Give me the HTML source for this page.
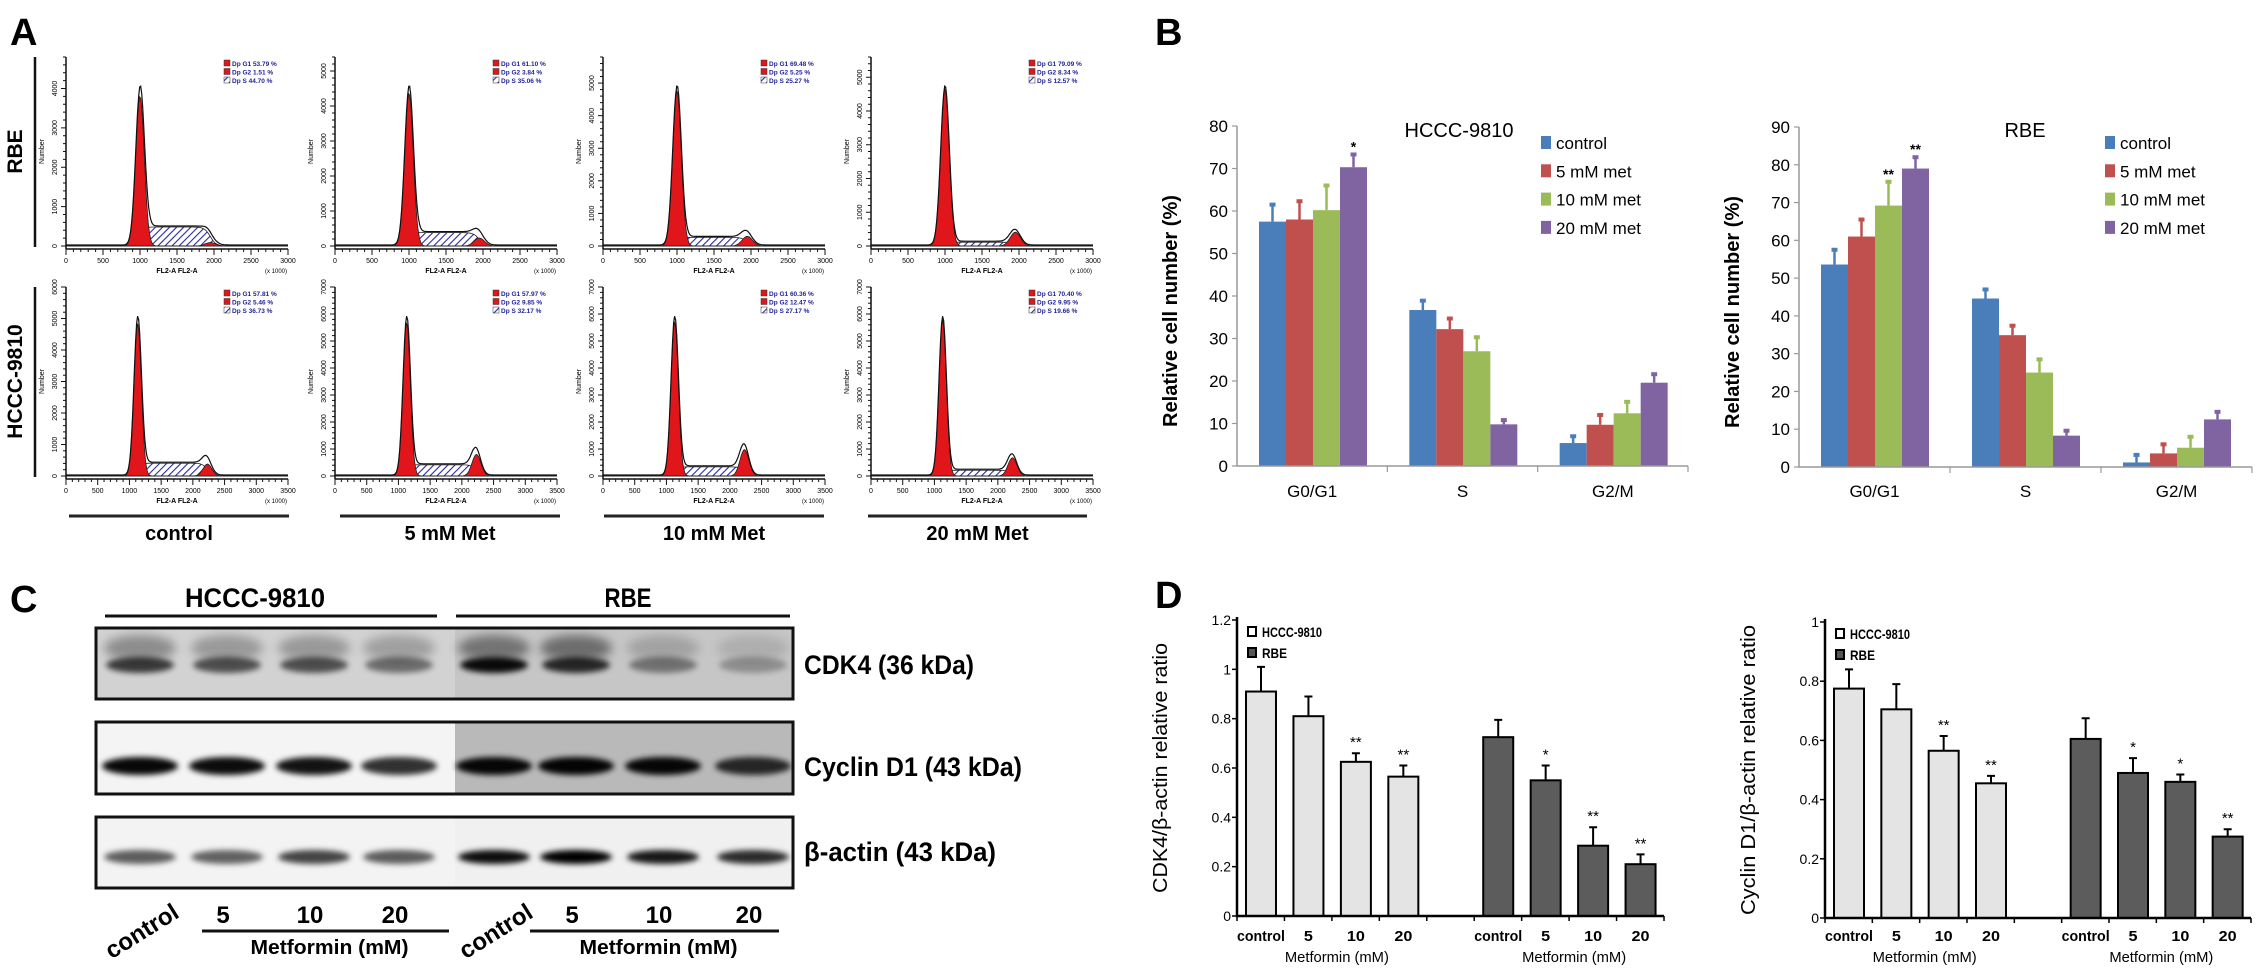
<!DOCTYPE html>
<html><head><meta charset="utf-8">
<style>
html,body{margin:0;padding:0;background:#fff;}
svg{display:block;}
text{font-family:"Liberation Sans",sans-serif;}
</style></head>
<body>
<svg id="fig" xmlns="http://www.w3.org/2000/svg" width="2268" height="978" viewBox="0 0 2268 978">
<defs>
<pattern id="hatch" patternUnits="userSpaceOnUse" width="5" height="5" patternTransform="rotate(45)">
<rect width="5" height="5" fill="#fff"/><line x1="0" y1="0" x2="0" y2="5" stroke="#2a2a9a" stroke-width="2.2"/>
</pattern>
<filter id="blur6" x="-50%" y="-50%" width="200%" height="200%"><feGaussianBlur stdDeviation="5"/></filter>
<filter id="blur3" x="-50%" y="-50%" width="200%" height="200%"><feGaussianBlur stdDeviation="3"/></filter>
</defs>
</svg>
<script>
// ---------- Panel A data (flow cytometry) ----------
const aGroups = ["control","5 mM Met","10 mM Met","20 mM Met"];
const aRbeG1 = [53.79, 61.10, 69.48, 79.09];
const aRbeG2 = [1.51, 3.84, 5.25, 8.34];
const aRbeS  = [44.70, 35.06, 25.27, 12.57];
const aHcccG1 = [57.81, 57.97, 60.36, 70.40];
const aHcccG2 = [5.46, 9.85, 12.47, 9.95];
const aHcccS  = [36.73, 32.17, 27.17, 19.66];
const aRbeYMax = [4800, 5400, 5800, 5600];
const aHcccYMax = [6000, 7000, 7000, 7000];
// ---------- Panel B data ----------
const bCategories = ["G0/G1","S","G2/M"];
const bSeriesNames = ["control","5 mM met","10 mM met","20 mM met"];
const bHcccControl = [57.5, 36.7, 5.4];
const bHccc5 = [58.0, 32.2, 9.7];
const bHccc10 = [60.2, 27.0, 12.4];
const bHccc20 = [70.3, 9.8, 19.6];
const bHcccControlErr = [61.5, 38.9, 7.0];
const bHccc5Err = [62.3, 34.7, 12.0];
const bHccc10Err = [66.0, 30.3, 15.1];
const bHccc20Err = [73.3, 10.8, 21.6];
const bHcccStars = [["","","",""],["","","",""],["","","",""]];
bHcccStars[0][3] = "*";
const bRbeControl = [53.6, 44.6, 1.2];
const bRbe5 = [61.0, 34.9, 3.6];
const bRbe10 = [69.2, 25.0, 5.1];
const bRbe20 = [79.0, 8.3, 12.6];
const bRbeControlErr = [57.5, 47.0, 3.2];
const bRbe5Err = [65.5, 37.4, 6.0];
const bRbe10Err = [75.5, 28.5, 8.0];
const bRbe20Err = [82.0, 9.6, 14.6];
const bRbeStars = [["","","**","**"],["","","",""],["","","",""]];
const bHcccTicks = [0,10,20,30,40,50,60,70,80];
const bRbeTicks = [0,10,20,30,40,50,60,70,80,90];
// ---------- Panel C data (band intensities) ----------
const cLaneLabels = ["control","5","10","20","control","5","10","20"];
const cCdk4 = [0.72, 0.62, 0.62, 0.48, 0.95, 0.80, 0.42, 0.28];
const cCdk4Upper = [0.55, 0.45, 0.45, 0.40, 0.70, 0.75, 0.30, 0.20];
const cCyclin = [0.97, 0.95, 0.92, 0.80, 0.97, 0.98, 0.97, 0.80];
const cActin = [0.62, 0.60, 0.72, 0.62, 0.95, 1.00, 0.90, 0.82];
// ---------- Panel D data ----------
const dLabels = ["control","5","10","20"];
const dCdk4Hccc = [0.91, 0.81, 0.625, 0.565];
const dCdk4HcccErr = [1.01, 0.89, 0.66, 0.61];
const dCdk4Rbe = [0.725, 0.55, 0.285, 0.21];
const dCdk4RbeErr = [0.795, 0.61, 0.36, 0.25];
const dCdk4HcccStars = ["","","**","**"];
const dCdk4RbeStars = ["","*","**","**"];
const dCycHccc = [0.775, 0.705, 0.565, 0.455];
const dCycHcccErr = [0.84, 0.79, 0.615, 0.48];
const dCycRbe = [0.605, 0.49, 0.46, 0.275];
const dCycRbeErr = [0.675, 0.54, 0.485, 0.30];
const dCycHcccStars = ["","","**","**"];
const dCycRbeStars = ["","*","*","**"];
const dCdk4Ticks = [0,0.2,0.4,0.6,0.8,1,1.2];
const dCycTicks = [0,0.2,0.4,0.6,0.8,1];

const NS = "http://www.w3.org/2000/svg";
const svg = document.getElementById('fig');
function mk(tag, attrs, parent){
  const e = document.createElementNS(NS, tag);
  for (const k in attrs) e.setAttribute(k, attrs[k]);
  (parent || svg).appendChild(e);
  return e;
}
function txt(s, attrs, parent){ const t = mk('text', attrs, parent); t.textContent = s; return t; }

// ================= Panel letters =================
[["A",10,45],["B",1155,45],["C",10,612],["D",1155,608]].forEach(p=>{
  const t = txt(p[0], {x:p[1], y:p[2], 'font-size':38, 'font-weight':'bold'});
  
  
});

// ================= Panel A =================
const aColX = [66, 335, 603, 871];
const aW = 222;
const aRows = [{top:57, base:246, xmax:3000, mu1:1000, mu2:1950, name:"RBE"},
               {top:287, base:476, xmax:3500, mu1:1130, mu2:2230, name:"HCCC-9810"}];
function gauss(x, mu, s){ return Math.exp(-0.5*((x-mu)/s)*((x-mu)/s))/(s*2.5066); }
function sig(z){ return 1/(1+Math.exp(-z)); }
function drawHist(ci, ri, g1, g2, sp, ymax){
  const row = aRows[ri];
  const x0 = aColX[ci], H = row.base - row.top;
  const g = mk('g', {});
  
  
  const sx = v => x0 + v / row.xmax * aW;
  const s1 = 58, s2 = 70;
  const N = 220, pts = [];
  for (let i=0;i<=N;i++){
    const x = i/N*row.xmax;
    const a = g1*gauss(x,row.mu1,s1);
    const b = g2*gauss(x,row.mu2,s2);
    const c = sp/(row.mu2-row.mu1)*sig((x-row.mu1)/30)*sig((row.mu2-x)/40);
    pts.push([x,a,b,c]);
  }
  let mx = 0; pts.forEach(p=>{ mx = Math.max(mx, p[1]+p[2]+p[3]); });
  const k = 0.84*H/mx;
  const sy = v => row.base - v*k;
  let dS = "M"+sx(pts[0][0])+","+row.base;
  pts.forEach(p=>{ dS += " L"+sx(p[0]).toFixed(1)+","+sy(p[3]).toFixed(1); });
  dS += " L"+sx(row.xmax)+","+row.base+"Z";
  const ps = mk('path', {d:dS, fill:'url(#hatch)', stroke:'#222', 'stroke-width':0.8}, g);
  
  
  let d1 = "M"+sx(pts[0][0])+","+row.base;
  pts.forEach(p=>{ d1 += " L"+sx(p[0]).toFixed(1)+","+sy(p[1]).toFixed(1); });
  d1 += " L"+sx(row.xmax)+","+row.base+"Z";
  const p1 = mk('path', {d:d1, fill:'#e0161b', stroke:'#222', 'stroke-width':0.8}, g);
  
  
  let d2 = "M"+sx(pts[0][0])+","+row.base;
  pts.forEach(p=>{ d2 += " L"+sx(p[0]).toFixed(1)+","+sy(p[2]).toFixed(1); });
  d2 += " L"+sx(row.xmax)+","+row.base+"Z";
  const p2 = mk('path', {d:d2, fill:'#e0161b', stroke:'#222', 'stroke-width':0.8}, g);
  
  
  let dt = "";
  pts.forEach((p,i)=>{ dt += (i?" L":"M")+sx(p[0]).toFixed(1)+","+(sy(p[1]+p[2]+p[3])-1).toFixed(1); });
  const pt = mk('path', {d:dt, fill:'none', stroke:'#111', 'stroke-width':1.2}, g);
  
  
  const ax = mk('path', {d:`M${x0},${row.top} L${x0},${row.base+3} M${x0},${row.base+3} L${x0+aW},${row.base+3}`, stroke:'#111', 'stroke-width':1.5, fill:'none'}, g);
  
  
  const ySteps = Math.floor(ymax/200);
  for (let i=0;i<=ySteps;i++){
    const v = i*200, y = row.base - v/ymax*H;
    mk('line', {x1:x0-(i%5==0?5:3), x2:x0, y1:y, y2:y, stroke:'#111', 'stroke-width':1}, g);
    if (i%5==0){
      const tl = txt(String(v), {x:x0-9, y:y, 'font-size':7, 'text-anchor':'middle', transform:`rotate(-90 ${x0-9} ${y})`}, g);
      
      
    }
  }
  for (let v=0; v<=row.xmax; v+=100){
    const x = sx(v);
    mk('line', {x1:x, x2:x, y1:row.base+3, y2:row.base+(v%500==0?9:6), stroke:'#111', 'stroke-width':1}, g);
    if (v%500==0){
      const tl = txt(String(v), {x:x, y:row.base+17, 'font-size':7, 'text-anchor':'middle'}, g);
      
      
    }
  }
  const xl = txt("FL2-A FL2-A", {x:x0+aW*0.5, y:row.base+27, 'font-size':7, 'font-weight':'bold', 'text-anchor':'middle'}, g);
  
  
  const xu = txt("(x 1000)", {x:x0+aW-12, y:row.base+27, 'font-size':6, 'text-anchor':'middle'}, g);
  
  
  const yl = txt("Number", {x:x0-22, y:(row.top+row.base)/2, 'font-size':7, 'text-anchor':'middle', transform:`rotate(-90 ${x0-22} ${(row.top+row.base)/2})`}, g);
  
  
  const lg = mk('g', {}, g);
  
  
  const lx = x0 + 158, ly = row.top + 3;
  [["Dp G1", g1, '#e0161b'],["Dp G2", g2, '#e0161b'],["Dp S", sp, 'url(#hatch)']].forEach((r,i)=>{
    mk('rect', {x:lx, y:ly+i*8.5, width:6, height:6, fill:r[2], stroke:'#333', 'stroke-width':0.5}, lg);
    const lt = txt(r[0]+"  "+r[1].toFixed(2)+" %", {x:lx+8, y:ly+i*8.5+6, 'font-size':6.5, fill:'#22229a', 'font-weight':'bold'}, lg);
    
    
  });
}
for (let c=0;c<4;c++){
  drawHist(c, 0, aRbeG1[c], aRbeG2[c], aRbeS[c], aRbeYMax[c]);
  drawHist(c, 1, aHcccG1[c], aHcccG2[c], aHcccS[c], aHcccYMax[c]);
}
aRows.forEach((r,i)=>{
  const l = mk('line', {x1:35, x2:35, y1:r.top, y2:r.base+1, stroke:'#111', 'stroke-width':2.5});
  
  
  const cy = (r.top + r.base)/2;
  const t = txt(r.name, {x:22, y:cy, 'font-size':21, 'font-weight':'bold', 'text-anchor':'middle', transform:`rotate(-90 22 ${cy})`});
  
  
});
const aUnder = [[69,289],[340,560],[604,824],[868,1087]];
aGroups.forEach((gname,i)=>{
  const l = mk('line', {x1:aUnder[i][0], x2:aUnder[i][1], y1:516, y2:516, stroke:'#222', 'stroke-width':3});
  
  
  const t = txt(gname, {x:(aUnder[i][0]+aUnder[i][1])/2, y:540, 'font-size':20, 'font-weight':'bold', 'text-anchor':'middle'});
  
  
});

// ================= Panel B =================
const bColors = ["#4a7ebb","#c0504d","#9bbb59","#8064a2"];
function drawB(cfg){
  const g = mk('g', {});
  
  
  const sy = v => cfg.y0 - v/cfg.ymax*(cfg.y0-cfg.yTop);
  const catW = (cfg.xEnd - cfg.x0)/bCategories.length;
  bCategories.forEach((cat, ci)=>{
    cfg.series.forEach((ser, si)=>{
      const x = cfg.x0 + ci*catW + 22 + si*27;
      const v = ser[ci], e = cfg.errs[si][ci];
      const r = mk('rect', {x:x, y:sy(v), width:27, height:cfg.y0-sy(v), fill:bColors[si]}, g);
      
      
      const el = mk('line', {x1:x+13.5, x2:x+13.5, y1:sy(v), y2:sy(e), stroke:bColors[si], 'stroke-width':2.5}, g);
      
      
      mk('rect', {x:x+10.5, y:sy(e)-2, width:6, height:4, fill:bColors[si]}, g);
      const st = cfg.stars[ci][si];
      if (st){
        const s = txt(st, {x:x+13.5, y:sy(e)-3, 'font-size':14, 'font-weight':'bold', 'text-anchor':'middle'}, g);
        
        
      }
    });
    const cl = txt(cat, {x:cfg.x0 + ci*catW + catW/2, y:497, 'font-size':17, 'text-anchor':'middle'}, g);
    
    
    mk('line', {x1:cfg.x0+(ci+1)*catW, x2:cfg.x0+(ci+1)*catW, y1:cfg.y0, y2:cfg.y0+6, stroke:'#999', 'stroke-width':1.2}, g);
  });
  const ax = mk('path', {d:`M${cfg.x0},${cfg.yTop} L${cfg.x0},${cfg.y0} L${cfg.xEnd},${cfg.y0}`, stroke:'#999', 'stroke-width':1.5, fill:'none'}, g);
  
  
  cfg.ticks.forEach(v=>{
    mk('line', {x1:cfg.x0-5, x2:cfg.x0, y1:sy(v), y2:sy(v), stroke:'#999', 'stroke-width':1.2}, g);
    const t = txt(String(v), {x:cfg.x0-9, y:sy(v)+6, 'font-size':17, 'text-anchor':'end'}, g);
    
    
  });
  const yt = txt("Relative cell number (%)", {x:cfg.x0-60, y:(cfg.y0+cfg.yTop)/2+15, 'font-size':20, 'font-weight':'bold', 'text-anchor':'middle', textLength:232, lengthAdjust:'spacingAndGlyphs', transform:`rotate(-90 ${cfg.x0-60} ${(cfg.y0+cfg.yTop)/2+15})`}, g);
  
  
  const tt = txt(cfg.title, {x:cfg.titleX, y:137, 'font-size':20, 'text-anchor':'middle'}, g);
  
  
  bSeriesNames.forEach((n,i)=>{
    const y = 143 + i*28.3;
    mk('rect', {x:cfg.legX, y:y-7, width:10, height:13, fill:bColors[i]}, g);
    const t = txt(n, {x:cfg.legX+15, y:y+6, 'font-size':17}, g);
    
    
  });
}
drawB({name:'chart-b-hccc9810', x0:1237, xEnd:1688, y0:466, yTop:126, ymax:80, ticks:bHcccTicks,
  series:[bHcccControl,bHccc5,bHccc10,bHccc20], errs:[bHcccControlErr,bHccc5Err,bHccc10Err,bHccc20Err],
  stars:bHcccStars, title:"HCCC-9810", titleX:1459, legX:1541});
drawB({name:'chart-b-rbe', x0:1799, xEnd:2252, y0:467, yTop:127, ymax:90, ticks:bRbeTicks,
  series:[bRbeControl,bRbe5,bRbe10,bRbe20], errs:[bRbeControlErr,bRbe5Err,bRbe10Err,bRbe20Err],
  stars:bRbeStars, title:"RBE", titleX:2025, legX:2105});

// ================= Panel C =================
const cLaneX = [140, 227, 314, 399, 494, 576, 663, 753];
const cBoxX0 = 96, cBoxX1 = 793, cSplit = 455;
function blotBox(name, y0, y1, bgL, bgR){
  const g = mk('g', {});
  
  
  mk('rect', {x:cBoxX0, y:y0, width:cSplit-cBoxX0, height:y1-y0, fill:bgL}, g);
  mk('rect', {x:cSplit, y:y0, width:cBoxX1-cSplit, height:y1-y0, fill:bgR}, g);
  return g;
}
const gC1 = blotBox('blot-cdk4', 628, 699, '#d2d2d2', '#c6c6c6');
cLaneX.forEach((x,i)=>{
  const u = mk('ellipse', {cx:x, cy:648, rx:36, ry:13, fill:'#000', 'fill-opacity':cCdk4Upper[i]*0.6, filter:'url(#blur6)'}, gC1);
  
  
  const b = mk('ellipse', {cx:x, cy:665, rx:34, ry:8, fill:'#000', 'fill-opacity':cCdk4[i], filter:'url(#blur3)'}, gC1);
  
  
});
const gC2 = blotBox('blot-cyclin-d1', 722, 794, '#f4f4f4', '#b9b9b9');
cLaneX.forEach((x,i)=>{
  const b = mk('ellipse', {cx:x, cy:766, rx:38, ry:9, fill:'#000', 'fill-opacity':cCyclin[i], filter:'url(#blur3)'}, gC2);
  
  
});
const gC3 = blotBox('blot-beta-actin', 817, 888, '#f3f3f3', '#f0f0f0');
cLaneX.forEach((x,i)=>{
  const b = mk('ellipse', {cx:x, cy:857, rx:36, ry:7, fill:'#000', 'fill-opacity':cActin[i], filter:'url(#blur3)'}, gC3);
  
  
});
[[628,699],[722,794],[817,888]].forEach(b=>{
  const r = mk('rect', {x:cBoxX0, y:b[0], width:cBoxX1-cBoxX0, height:b[1]-b[0], fill:'none', stroke:'#111', 'stroke-width':3});
  
  
});
[["CDK4 (36 kDa)",674,170],["Cyclin D1 (43 kDa)",776,218],["β-actin (43 kDa)",861,192]].forEach(l=>{
  const t = txt(l[0], {x:804, y:l[1], 'font-size':27, 'font-weight':'bold', textLength:l[2], lengthAdjust:'spacingAndGlyphs'});
  
  
});
[["HCCC-9810",255,105,437],["RBE",628,456,790]].forEach(h=>{
  const t = txt(h[0], {x:h[1], y:607, 'font-size':27, 'font-weight':'bold', 'text-anchor':'middle', textLength:h[0]=="RBE"?47:140, lengthAdjust:'spacingAndGlyphs'});
  
  
  const l = mk('line', {x1:h[2], x2:h[3], y1:616, y2:616, stroke:'#111', 'stroke-width':3});
  
  
});
cLaneLabels.forEach((s,i)=>{
  if (s==="control"){
    const cx = cLaneX[i]+6, cy = 938;
    const t = txt(s, {x:cx, y:cy, 'font-size':24, 'font-weight':'bold', 'text-anchor':'middle', transform:`rotate(-32 ${cx} ${cy})`});
    
    
  } else {
    const t = txt(s, {x:cLaneX[i]-4, y:923, 'font-size':24, 'font-weight':'bold', 'text-anchor':'middle'});
    
    
  }
});
[[202,449],[530,779]].forEach(m=>{
  const l = mk('line', {x1:m[0], x2:m[1], y1:931, y2:931, stroke:'#111', 'stroke-width':3});
  
  
  const t = txt("Metformin (mM)", {x:(m[0]+m[1])/2+4, y:954, 'font-size':20, 'font-weight':'bold', 'text-anchor':'middle', textLength:158, lengthAdjust:'spacingAndGlyphs'});
  
  
});

// ================= Panel D =================
function drawD(cfg){
  const g = mk('g', {});
  
  
  const sy = v => cfg.y0 - v/cfg.ymax*(cfg.y0-cfg.yTop);
  const step = (cfg.xEnd - cfg.x0)/9;
  const groups = [[cfg.hccc, cfg.hcccErr, cfg.hcccStars, '#e4e4e4', 0],[cfg.rbe, cfg.rbeErr, cfg.rbeStars, '#5c5c5c', 5]];
  groups.forEach(gr=>{
    gr[0].forEach((v,i)=>{
      const slot = gr[4]+i;
      const x = cfg.x0 + slot*step + 9;
      const e = gr[1][i];
      const el = mk('path', {d:`M${x+15},${sy(v)} L${x+15},${sy(e)} M${x+11},${sy(e)} L${x+19},${sy(e)}`, stroke:'#000', 'stroke-width':2, fill:'none'}, g);
      
      
      const r = mk('rect', {x:x, y:sy(v), width:30, height:cfg.y0-sy(v), fill:gr[3], stroke:'#000', 'stroke-width':2}, g);
      
      
      if (gr[2][i]){
        const s = txt(gr[2][i], {x:x+15, y:sy(e)-6, 'font-size':15, 'text-anchor':'middle'}, g);
        
        
      }
      const lb = txt(dLabels[i], {x:x+15, y:941, 'font-size':15, 'font-weight':'bold', 'text-anchor':'middle', textLength:dLabels[i]=="control"?48:(dLabels[i].length*9), lengthAdjust:'spacingAndGlyphs'}, g);
      
      
    });
    const mx = cfg.x0 + (gr[4]+2)*step + 5;
    const ml = txt("Metformin (mM)", {x:mx, y:962, 'font-size':15, 'text-anchor':'middle', textLength:104, lengthAdjust:'spacingAndGlyphs'}, g);
    
    
  });
  const ax = mk('path', {d:`M${cfg.x0},${cfg.yTop-3} L${cfg.x0},${cfg.y0} L${cfg.xEnd},${cfg.y0}`, stroke:'#000', 'stroke-width':2.5, fill:'none'}, g);
  
  
  for (let i=0;i<=9;i++) mk('line', {x1:cfg.x0+i*step, x2:cfg.x0+i*step, y1:cfg.y0, y2:cfg.y0+5, stroke:'#000', 'stroke-width':1.5}, g);
  cfg.ticks.forEach(v=>{
    mk('line', {x1:cfg.x0-5, x2:cfg.x0, y1:sy(v), y2:sy(v), stroke:'#000', 'stroke-width':1.5}, g);
    const t = txt(String(v), {x:cfg.x0-6, y:sy(v)+5, 'font-size':14, 'text-anchor':'end'}, g);
    
    
  });
  const cy = cfg.titleY;
  const yt = txt(cfg.ytitle, {x:cfg.x0-70, y:cy, 'font-size':20, 'text-anchor':'middle', textLength:cfg.tlen, lengthAdjust:'spacingAndGlyphs', transform:`rotate(-90 ${cfg.x0-70} ${cy})`}, g);
  
  
  [["HCCC-9810",'#fff',cfg.yTop+12],["RBE",'#555',cfg.yTop+33]].forEach(l=>{
    mk('rect', {x:cfg.x0+11, y:l[2]-5, width:8, height:9, fill:l[1], stroke:'#000', 'stroke-width':2}, g);
    const t = txt(l[0], {x:cfg.x0+25, y:l[2]+5, 'font-size':14, 'font-weight':'bold', textLength:l[0]=="RBE"?25:60, lengthAdjust:'spacingAndGlyphs'}, g);
    
    
  });
}
drawD({name:'chart-d-cdk4', x0:1237, xEnd:1664, y0:916, yTop:620, ymax:1.2, ticks:dCdk4Ticks,
  hccc:dCdk4Hccc, hcccErr:dCdk4HcccErr, hcccStars:dCdk4HcccStars, rbe:dCdk4Rbe, rbeErr:dCdk4RbeErr, rbeStars:dCdk4RbeStars,
  ytitle:"CDK4/β-actin relative ratio", titleY:768, tlen:250});
drawD({name:'chart-d-cyclin-d1', x0:1825, xEnd:2251, y0:918, yTop:622, ymax:1, ticks:dCycTicks,
  hccc:dCycHccc, hcccErr:dCycHcccErr, hcccStars:dCycHcccStars, rbe:dCycRbe, rbeErr:dCycRbeErr, rbeStars:dCycRbeStars,
  ytitle:"Cyclin D1/β-actin relative ratio", titleY:770, tlen:290});
</script>
</body></html>
